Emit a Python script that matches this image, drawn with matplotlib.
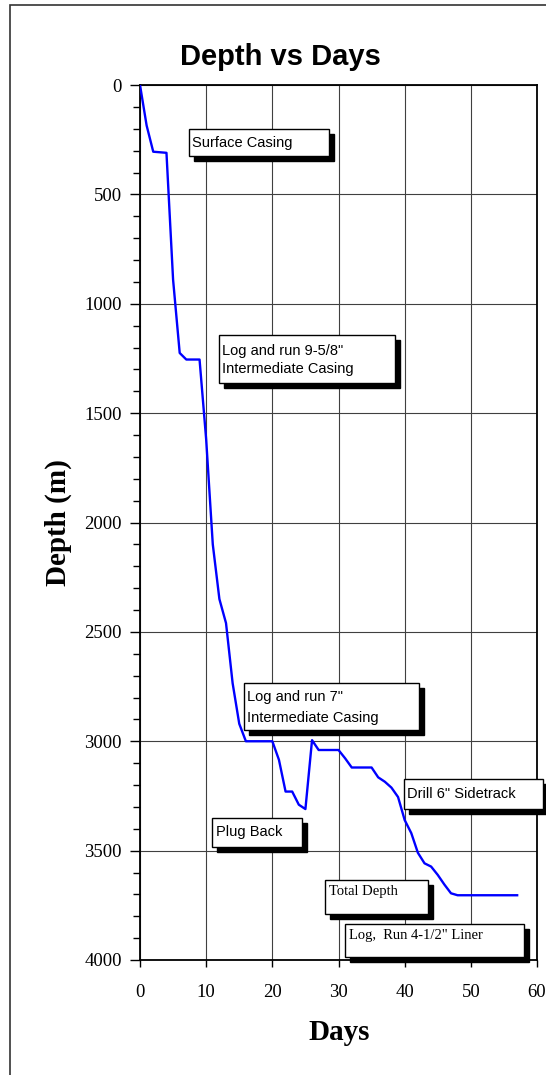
import matplotlib
matplotlib.use("Agg")
import matplotlib.pyplot as plt
from matplotlib.patches import Rectangle
from matplotlib.transforms import ScaledTranslation
from matplotlib.ticker import MultipleLocator

# ---- data ----
days = [0, 1, 2, 4, 5, 6, 7, 9, 10, 11, 12, 13, 14, 15, 16, 20, 21, 22, 23, 24, 25,
        26, 27, 30, 31, 32, 35, 36, 37, 38, 39, 40, 41, 42, 43, 44, 45, 46, 47, 48, 57]
depth = [0, 185, 305, 310, 890, 1225, 1255, 1255, 1620, 2100, 2350, 2460, 2735, 2920,
         3000, 3000, 3085, 3230, 3230, 3290, 3310, 2995, 3040, 3040, 3078, 3120, 3120,
         3165, 3185, 3212, 3255, 3360, 3420, 3510, 3558, 3573, 3611, 3655, 3695, 3704, 3704]

x_ticks = [0, 10, 20, 30, 40, 50, 60]
y_ticks = [0, 500, 1000, 1500, 2000, 2500, 3000, 3500, 4000]

# annotation boxes: (x0, x1, y0, y1) in data units, lines, text x, baselines, font
annotations = [
    ((7.40, 28.56, 201, 325), ["Surface Casing"], 7.93, [282], "sans"),
    ((11.94, 38.54, 1143, 1362), ['Log and run 9-5/8"', "Intermediate Casing"], 12.44, [1234, 1318], "sans"),
    ((15.72, 42.16, 2734, 2949), ['Log and run 7"', "Intermediate Casing"], 16.22, [2815, 2911], "sans"),
    ((10.88, 24.48, 3351, 3483), ["Plug Back"], 11.43, [3433], "sans"),
    ((39.85, 60.90, 3173, 3310), ['Drill 6" Sidetrack'], 40.39, [3258], "sans"),
    ((27.96, 43.52, 3634, 3790), ["Total Depth"], 28.60, [3703], "serif"),
    ((30.98, 58.03, 3835, 3986), ['Log,  Run 4-1/2" Liner'], 31.58, [3904], "serif"),
]

W, H = 546, 1075
fig = plt.figure(figsize=(W / 100, H / 100), dpi=100)
fig.patch.set_facecolor("white")

# outer frame
fig.add_artist(Rectangle((10 / W, -0.1), 1.2, 1.1 - 5 / H, transform=fig.transFigure,
                         fill=False, edgecolor="#333333", linewidth=1.2, clip_on=False))

ax = fig.add_axes([140 / W, 115 / H, 397 / W, 875 / H])
ax.plot(days, depth, color="#0000FF", linewidth=1.7, zorder=3)

ax.set_xlim(0, 60)
ax.set_ylim(4000, 0)
ax.set_xticks(x_ticks)
ax.set_yticks(y_ticks)
ax.yaxis.set_minor_locator(MultipleLocator(100))
ax.grid(True, which="major", color="#404040", linewidth=0.8)
ax.set_axisbelow(True)

serif = "Liberation Serif"
sans = "Liberation Sans"
ax.tick_params(axis="y", which="major", direction="out", length=7, width=1, pad=6, labelsize=13.5)
ax.tick_params(axis="y", which="minor", direction="out", length=5, width=1)
ax.tick_params(axis="x", which="major", direction="out", length=5, width=1, pad=12, labelsize=13.5)
for lab in ax.get_xticklabels() + ax.get_yticklabels():
    lab.set_fontfamily(serif)
for sp in ax.spines.values():
    sp.set_linewidth(1.3)
    sp.set_color("black")

# annotation boxes with drop shadow
shadow_off = ScaledTranslation(5 / 100, -5 / 100, fig.dpi_scale_trans)
for (x0, x1, y0, y1), lines, tx, baselines, fam in annotations:
    ax.add_patch(Rectangle((x0, y0), x1 - x0, y1 - y0, facecolor="black", edgecolor="black",
                           linewidth=1.0, transform=ax.transData + shadow_off, clip_on=False, zorder=4))
    ax.add_patch(Rectangle((x0, y0), x1 - x0, y1 - y0, facecolor="white", edgecolor="black",
                           linewidth=1.0, clip_on=False, zorder=5))
    for line, by in zip(lines, baselines):
        ax.text(tx, by, line, ha="left", va="baseline", fontsize=10.5,
                family=sans if fam == "sans" else serif, zorder=6, clip_on=False)

fig.text(280 / W, 1 - 64.5 / H, "Depth vs Days", ha="center", va="baseline",
         fontsize=21, fontweight="bold", family=sans)
fig.text(58.5 / W, 1 - 522.5 / H, "Depth (m)", ha="center", va="center", rotation=90,
         fontsize=21, fontweight="bold", family=serif)
fig.text(339 / W, 1 - 1032 / H, "Days", ha="center", va="center",
         fontsize=21, fontweight="bold", family=serif)

fig.savefig("out.png", dpi=100)
